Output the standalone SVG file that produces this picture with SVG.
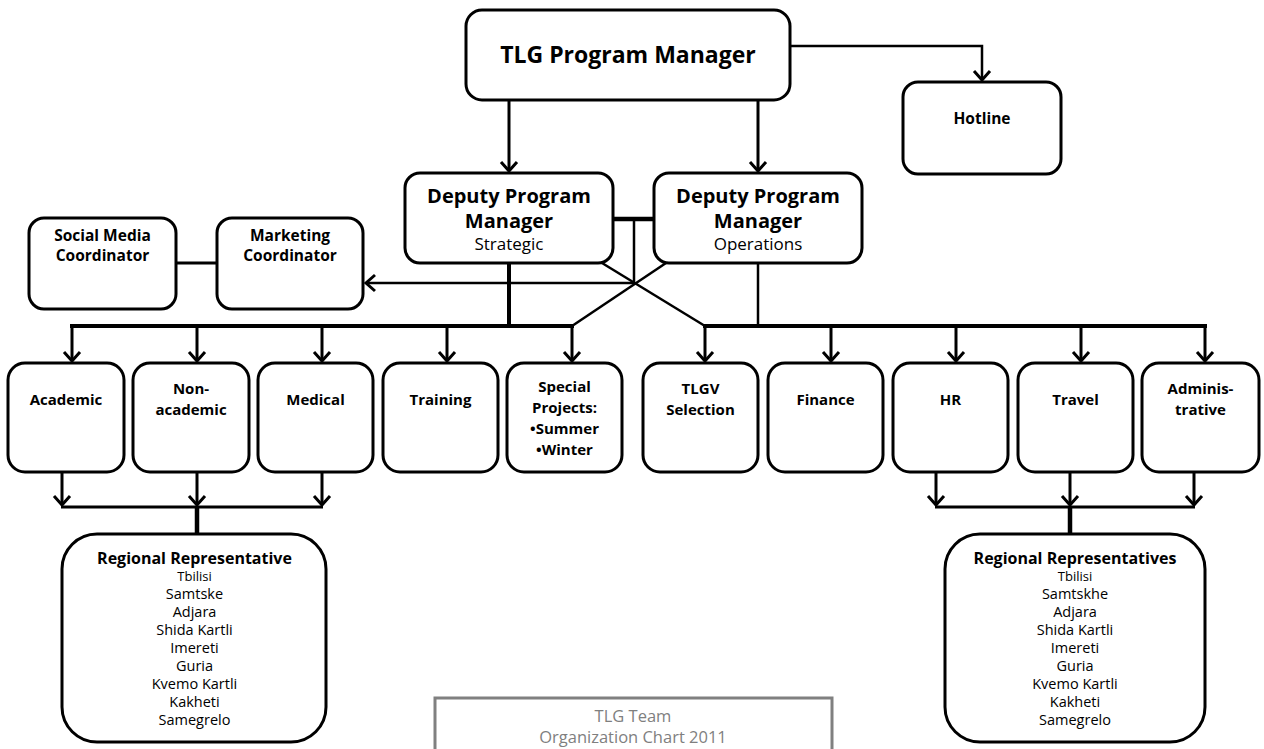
<svg xmlns="http://www.w3.org/2000/svg" width="1264" height="749" viewBox="0 0 1264 749">
<style>
.box{fill:#fff;stroke:#000;stroke-width:3}
.b{font-family:"Open Sans","Liberation Sans",sans-serif;font-weight:bold;fill:#000;text-anchor:middle}
.r{font-family:"Open Sans","Liberation Sans",sans-serif;fill:#000;text-anchor:middle}
.g{fill:#7f7f7f}
.row{font-size:15px}
.reg{font-size:14.5px}
.ln{fill:none;stroke:#000;stroke-linecap:butt}
.arr{marker-end:url(#ah)}
</style>
<defs>
<marker id="ah" viewBox="-11 -10 14 20" markerWidth="14" markerHeight="20" refX="0" refY="0" orient="auto" markerUnits="userSpaceOnUse" overflow="visible">
<path d="M-9,-8 L0,0 L-9,8" fill="none" stroke="#000" stroke-width="3"/>
</marker>
</defs>
<rect width="1264" height="749" fill="#fff"/>

<g id="connectors">
<line class="ln arr" x1="509" y1="100" x2="509" y2="171" stroke-width="3"/>
<line class="ln arr" x1="758" y1="100" x2="758" y2="171" stroke-width="3"/>
<polyline class="ln arr" points="790,46 982,46 982,80" stroke-width="2.5"/>
<line class="ln" x1="613" y1="219" x2="654" y2="219" stroke-width="4.5"/>
<line class="ln" x1="634" y1="219" x2="634" y2="283" stroke-width="2.5"/>
<line class="ln arr" x1="634" y1="283" x2="366" y2="283" stroke-width="2.5"/>
<line class="ln" x1="176" y1="263" x2="217" y2="263" stroke-width="3"/>
<line class="ln" x1="509" y1="263" x2="509" y2="326" stroke-width="4"/>
<line class="ln" x1="758" y1="263" x2="758" y2="326" stroke-width="2.5"/>
<line class="ln" x1="602" y1="263" x2="705" y2="326" stroke-width="2.5"/>
<line class="ln" x1="666" y1="263" x2="572" y2="326" stroke-width="2.5"/>
<line class="ln" x1="70" y1="326" x2="574" y2="326" stroke-width="4"/>
<line class="ln" x1="703" y1="326" x2="1207" y2="326" stroke-width="4"/>
<line class="ln arr" x1="72" y1="326" x2="72" y2="361" stroke-width="3"/>
<line class="ln arr" x1="197" y1="326" x2="197" y2="361" stroke-width="3"/>
<line class="ln arr" x1="322" y1="326" x2="322" y2="361" stroke-width="3"/>
<line class="ln arr" x1="447" y1="326" x2="447" y2="361" stroke-width="3"/>
<line class="ln arr" x1="572" y1="326" x2="572" y2="361" stroke-width="3"/>
<line class="ln arr" x1="705" y1="326" x2="705" y2="361" stroke-width="3"/>
<line class="ln arr" x1="831" y1="326" x2="831" y2="361" stroke-width="3"/>
<line class="ln arr" x1="956" y1="326" x2="956" y2="361" stroke-width="3"/>
<line class="ln arr" x1="1081" y1="326" x2="1081" y2="361" stroke-width="3"/>
<line class="ln arr" x1="1205" y1="326" x2="1205" y2="361" stroke-width="3"/>
<line class="ln arr" x1="62" y1="472" x2="62" y2="505" stroke-width="3"/>
<line class="ln arr" x1="197" y1="472" x2="197" y2="505" stroke-width="3"/>
<line class="ln arr" x1="322" y1="472" x2="322" y2="505" stroke-width="3"/>
<line class="ln" x1="61" y1="507" x2="323" y2="507" stroke-width="3"/>
<line class="ln" x1="197" y1="507" x2="197" y2="534" stroke-width="4.5"/>
<line class="ln arr" x1="936" y1="472" x2="936" y2="505" stroke-width="3"/>
<line class="ln arr" x1="1070" y1="472" x2="1070" y2="505" stroke-width="3"/>
<line class="ln arr" x1="1194" y1="472" x2="1194" y2="505" stroke-width="3"/>
<line class="ln" x1="935" y1="507" x2="1195" y2="507" stroke-width="3"/>
<line class="ln" x1="1070" y1="507" x2="1070" y2="534" stroke-width="4.5"/>
</g>

<g id="tlg-program-manager">
<rect class="box" x="466" y="10" width="324" height="90" rx="16" stroke-width="3.5"/>
<text class="b" x="628" y="63" font-size="23">TLG Program Manager</text>
</g>

<g id="hotline">
<rect class="box" x="903" y="82" width="158" height="92" rx="15"/>
<text class="b" x="982" y="124" font-size="15.5">Hotline</text>
</g>

<g id="deputy-strategic">
<rect class="box" x="405" y="173" width="208" height="90" rx="15"/>
<text class="b" x="509" y="203" font-size="20">Deputy Program</text>
<text class="b" x="509" y="228" font-size="20">Manager</text>
<text class="r" x="509" y="250" font-size="17">Strategic</text>
</g>

<g id="deputy-operations">
<rect class="box" x="654" y="173" width="208" height="90" rx="15"/>
<text class="b" x="758" y="203" font-size="20">Deputy Program</text>
<text class="b" x="758" y="228" font-size="20">Manager</text>
<text class="r" x="758" y="250" font-size="17">Operations</text>
</g>

<g id="social-media">
<rect class="box" x="29" y="218" width="147" height="91" rx="15"/>
<text class="b" x="102.5" y="241" font-size="15.5">Social Media</text>
<text class="b" x="102.5" y="261" font-size="15.5">Coordinator</text>
</g>

<g id="marketing">
<rect class="box" x="217" y="218" width="146" height="91" rx="15"/>
<text class="b" x="290" y="241" font-size="15.5">Marketing</text>
<text class="b" x="290" y="261" font-size="15.5">Coordinator</text>
</g>

<g id="academic">
<rect class="box" x="8" y="363" width="116" height="109" rx="17"/>
<text class="b row" x="66" y="405">Academic</text>
</g>
<g id="non-academic">
<rect class="box" x="133" y="363" width="116" height="109" rx="17"/>
<text class="b row" x="191" y="394">Non-</text>
<text class="b row" x="191" y="415">academic</text>
</g>
<g id="medical">
<rect class="box" x="258" y="363" width="115" height="109" rx="17"/>
<text class="b row" x="315.5" y="405">Medical</text>
</g>
<g id="training">
<rect class="box" x="383" y="363" width="115" height="109" rx="17"/>
<text class="b row" x="440.5" y="405">Training</text>
</g>
<g id="special-projects">
<rect class="box" x="507" y="363" width="115" height="109" rx="17"/>
<text class="b row" x="564.5" y="392">Special</text>
<text class="b row" x="564.5" y="413">Projects:</text>
<text class="b row" x="564.5" y="434">•Summer</text>
<text class="b row" x="564.5" y="455">•Winter</text>
</g>
<g id="tlgv-selection">
<rect class="box" x="643" y="363" width="115" height="109" rx="17"/>
<text class="b row" x="700.5" y="394">TLGV</text>
<text class="b row" x="700.5" y="415">Selection</text>
</g>
<g id="finance">
<rect class="box" x="768" y="363" width="115" height="109" rx="17"/>
<text class="b row" x="825.5" y="405">Finance</text>
</g>
<g id="hr">
<rect class="box" x="893" y="363" width="115" height="109" rx="17"/>
<text class="b row" x="950.5" y="405">HR</text>
</g>
<g id="travel">
<rect class="box" x="1018" y="363" width="115" height="109" rx="17"/>
<text class="b row" x="1075.5" y="405">Travel</text>
</g>
<g id="administrative">
<rect class="box" x="1142" y="363" width="117" height="109" rx="17"/>
<text class="b row" x="1200.5" y="394">Adminis-</text>
<text class="b row" x="1200.5" y="415">trative</text>
</g>

<g id="regional-left">
<rect class="box" x="62" y="534" width="264" height="208" rx="35"/>
<text class="b" x="194.5" y="564" font-size="16">Regional Representative</text>
<text class="r" x="194.5" y="581" font-size="13">Tbilisi</text>
<text class="r reg" x="194.5" y="599">Samtske</text>
<text class="r reg" x="194.5" y="617">Adjara</text>
<text class="r reg" x="194.5" y="635">Shida Kartli</text>
<text class="r reg" x="194.5" y="653">Imereti</text>
<text class="r reg" x="194.5" y="671">Guria</text>
<text class="r reg" x="194.5" y="689">Kvemo Kartli</text>
<text class="r reg" x="194.5" y="707">Kakheti</text>
<text class="r reg" x="194.5" y="725">Samegrelo</text>
</g>

<g id="regional-right">
<rect class="box" x="945" y="534" width="260" height="208" rx="35"/>
<text class="b" x="1075" y="564" font-size="16">Regional Representatives</text>
<text class="r" x="1075" y="581" font-size="13">Tbilisi</text>
<text class="r reg" x="1075" y="599">Samtskhe</text>
<text class="r reg" x="1075" y="617">Adjara</text>
<text class="r reg" x="1075" y="635">Shida Kartli</text>
<text class="r reg" x="1075" y="653">Imereti</text>
<text class="r reg" x="1075" y="671">Guria</text>
<text class="r reg" x="1075" y="689">Kvemo Kartli</text>
<text class="r reg" x="1075" y="707">Kakheti</text>
<text class="r reg" x="1075" y="725">Samegrelo</text>
</g>

<g id="footer">
<rect x="435" y="698" width="397" height="70" fill="#fff" stroke="#808080" stroke-width="3"/>
<text class="r g" x="633" y="722" font-size="16.5">TLG Team</text>
<text class="r g" x="633" y="743" font-size="16.5">Organization Chart 2011</text>
</g>
</svg>
